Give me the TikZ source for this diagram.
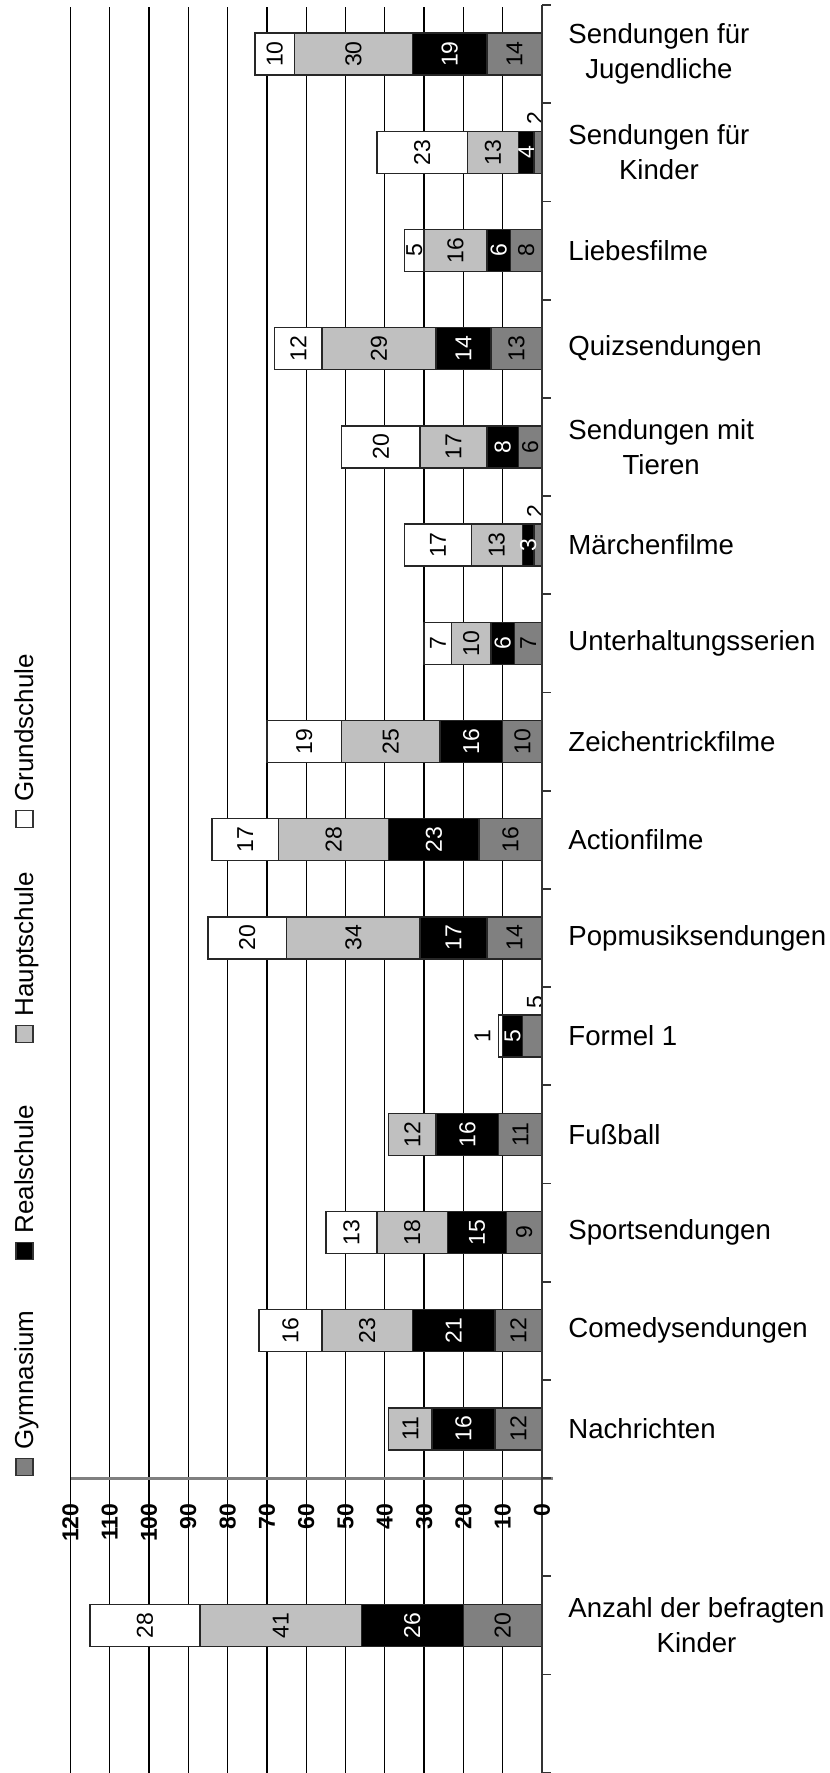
\documentclass[tikz,border=0pt]{standalone}
\usepackage{fontspec}
\setmainfont{Liberation Sans}
\usepackage{tikz}
\usetikzlibrary{positioning}

\definecolor{gymgray}{RGB}{128,128,128}
\definecolor{hauptgray}{RGB}{192,192,192}

\tikzset{
  gridline/.style={line width=0.65pt},
  axisline/.style={draw=black!80, line width=0.9pt},
  seg/.style={draw=black!85, line width=0.7pt},
  val/.style={rotate=90, inner sep=0pt, font=\fontsize{11.5}{12}\selectfont},
  axlabel/.style={rotate=90, inner sep=0pt, anchor=east, font=\bfseries\fontsize{11.5}{12}\selectfont},
  catlabel/.style={anchor=west, align=center, inner sep=0pt, font=\fontsize{13.8}{17.5}\selectfont},
  legbox/.style={draw=black!80, line width=0.6pt, minimum size=8.5pt, inner sep=0pt},
  legtext/.style={rotate=90, anchor=base west, inner sep=0pt, font=\fontsize{13}{14}\selectfont}
}

\begin{document}
\begin{tikzpicture}[x=0.5pt, y=-0.5pt]
\useasboundingbox (0,0) rectangle (830,1773);

% grid
\foreach \v in {10,20,...,120}
  \draw[gridline] ({542-3.93*\v},7) -- ({542-3.93*\v},1773);
\draw[gray, line width=1.5pt] (71,1478) -- (553,1478);

% bars: slot / label / Gymnasium / Realschule / Hauptschule / Grundschule / gym label outside
\foreach \s/\cat/\g/\r/\h/\w/\o in {
  0/{Sendungen für\\Jugendliche}/14/19/30/10/0,
  1/{Sendungen für\\Kinder}/2/4/13/23/1,
  2/Liebesfilme/8/6/16/5/0,
  3/Quizsendungen/13/14/29/12/0,
  4/{Sendungen mit\\Tieren}/6/8/17/20/0,
  5/Märchenfilme/2/3/13/17/1,
  6/Unterhaltungsserien/7/6/10/7/0,
  7/Zeichentrickfilme/10/16/25/19/0,
  8/Actionfilme/16/23/28/17/0,
  9/Popmusiksendungen/14/17/34/20/0,
  10/Formel 1/5/5/0/1/1,
  11/Fußball/11/16/12/0/0,
  12/Sportsendungen/9/15/18/13/0,
  13/Comedysendungen/12/21/23/16/0,
  14/Nachrichten/12/16/11/0/0,
  16/{Anzahl der befragten\\Kinder}/20/26/41/28/0}
{
  \pgfmathsetmacro{\yc}{5+98.2*(\s+0.5)}
  \pgfmathsetmacro{\yt}{\yc-21}
  \pgfmathsetmacro{\yb}{\yc+21}
  \pgfmathsetmacro{\xa}{542}
  \pgfmathsetmacro{\xb}{\xa-3.93*\g}
  \pgfmathsetmacro{\xc}{\xb-3.93*\r}
  \pgfmathsetmacro{\xd}{\xc-3.93*\h}
  \pgfmathsetmacro{\xe}{\xd-3.93*\w}
  \filldraw[seg, fill=gymgray] (\xb,\yt) rectangle (\xa,\yb);
  \filldraw[seg, fill=black] (\xc,\yt) rectangle (\xb,\yb);
  \ifnum\h>0 \filldraw[seg, fill=hauptgray] (\xd,\yt) rectangle (\xc,\yb); \fi
  \ifnum\w>0 \filldraw[seg, fill=white] (\xe,\yt) rectangle (\xd,\yb); \fi
  % values
  \ifnum\o=0
    \node[val] (g\s) at ({(\xa+\xb)/2},\yc) {\g};
  \else
    \node[val, anchor=west] (g\s) at (535,{\yt-6}) {\g};
  \fi
  \node[val, text=white] (r\s) at ({(\xb+\xc)/2},\yc) {\r};
  \ifnum\h>0 \node[val] (h\s) at ({(\xc+\xd)/2},\yc) {\h}; \fi
  \ifnum\w>2
    \node[val] (w\s) at ({(\xd+\xe)/2},\yc) {\w};
  \else\ifnum\w>0
    \node[val, anchor=south] (w\s) at ({\xe-8},\yc) {\w};
  \fi\fi
  \node[catlabel] (cat\s) at (568,\yc) {\cat};
}

% value axis
\draw[axisline] (542,5) -- (542,1773);
\foreach \k in {0,...,18}
  \draw[axisline] (542,{5+98.2*\k}) -- (551,{5+98.2*\k});
\foreach \v in {0,10,...,120}
  \node[axlabel] (ax\v) at ({542-3.93*\v},1503) {\v};

% legend
\node[legbox, fill=gymgray] (gymbox) at (24.5,1467) {};
\node[legtext] (gymtext) at ([xshift=4.25pt, yshift=4pt]gymbox.north) {Gymnasium};
\node[legbox, fill=black] (realbox) at (24.5,1251) {};
\node[legtext] (realtext) at ([xshift=4.25pt, yshift=4pt]realbox.north) {Realschule};
\node[legbox, fill=hauptgray] (hauptbox) at (24.5,1034) {};
\node[legtext] (haupttext) at ([xshift=4.25pt, yshift=4pt]hauptbox.north) {Hauptschule};
\node[legbox, fill=white] (grundbox) at (24.5,819) {};
\node[legtext] (grundtext) at ([xshift=4.25pt, yshift=4pt]grundbox.north) {Grundschule};
\end{tikzpicture}
\end{document}
